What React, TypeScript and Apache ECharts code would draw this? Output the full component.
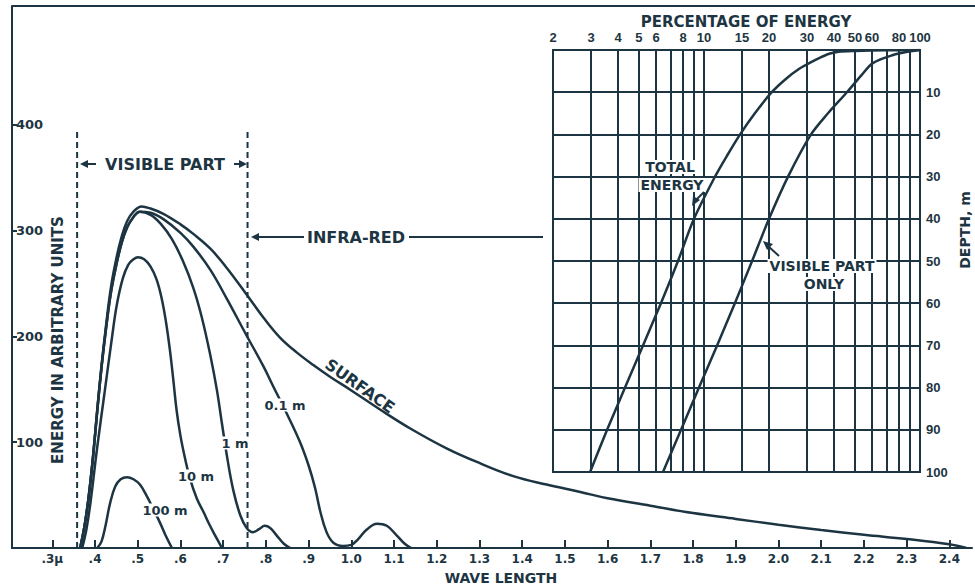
import React, { useEffect, useRef } from "react";
import * as echarts from "echarts";

const INK = "#1d3542";
const FONT = '"DejaVu Sans", sans-serif';
const NUMFONT = '"Liberation Sans", Arial, sans-serif';

// ---------- main chart: wave length (μ) vs energy ----------
const waveTicks = [0.3, 0.4, 0.5, 0.6, 0.7, 0.8, 0.9, 1.0, 1.1, 1.2, 1.3, 1.4, 1.5, 1.6, 1.7, 1.8, 1.9, 2.0, 2.1, 2.2, 2.3, 2.4];
const waveTickLabels = [".3μ", ".4", ".5", ".6", ".7", ".8", ".9", "1.0", "1.1", "1.2", "1.3", "1.4", "1.5", "1.6", "1.7", "1.8", "1.9", "2.0", "2.1", "2.2", "2.3", "2.4"];
const waveRange = [0.2056, 2.453];
const energyTicks = [100, 200, 300, 400];
const energyMax = 512.5;

const surface = [
  [0.365, 0], [0.375, 20], [0.385, 48], [0.395, 85], [0.405, 130], [0.415, 172], [0.425, 208],
  [0.437, 246], [0.45, 274], [0.462, 294], [0.475, 309], [0.49, 318], [0.509, 323], [0.53, 321],
  [0.56, 316], [0.6, 306], [0.63, 297], [0.67, 283], [0.708, 265], [0.756, 239], [0.794, 218],
  [0.833, 199], [0.872, 185], [0.911, 173], [0.95, 162], [1.0, 149], [1.067, 131], [1.138, 113],
  [1.224, 94], [1.302, 80], [1.379, 68], [1.457, 60], [1.536, 53], [1.6, 47], [1.7, 40],
  [1.8, 33], [1.9, 27.5], [2.0, 22], [2.1, 17], [2.2, 12.5], [2.3, 8.5], [2.4, 3.5], [2.44, 0],
];
const depth01m = [
  [0.365, 0], [0.375, 20], [0.385, 48], [0.395, 85], [0.405, 129], [0.415, 170], [0.425, 205],
  [0.437, 241], [0.45, 268], [0.462, 288], [0.475, 303], [0.49, 313], [0.505, 318], [0.53, 317],
  [0.56, 311], [0.6, 298], [0.63, 285], [0.67, 263], [0.708, 236], [0.756, 200], [0.794, 172],
  [0.817, 153], [0.849, 127], [0.88, 100], [0.9, 78], [0.915, 57], [0.927, 35], [0.942, 15],
  [0.958, 5], [0.98, 2], [1.0, 3], [1.015, 8], [1.035, 17], [1.06, 23], [1.083, 21], [1.106, 12],
  [1.125, 4], [1.14, 0],
];
const depth1m = [
  [0.365, 0], [0.375, 20], [0.385, 48], [0.395, 85], [0.405, 129], [0.415, 170], [0.425, 205],
  [0.437, 241], [0.45, 268], [0.462, 288], [0.475, 303], [0.49, 313], [0.505, 318], [0.53, 315],
  [0.555, 306], [0.58, 292], [0.605, 272], [0.63, 246], [0.65, 218], [0.67, 182], [0.685, 150],
  [0.697, 118], [0.71, 84], [0.724, 54], [0.74, 31], [0.755, 19], [0.77, 15], [0.785, 18],
  [0.797, 21], [0.81, 19], [0.825, 12], [0.842, 4], [0.857, 0],
];
const depth10m = [
  [0.37, 0], [0.38, 18], [0.39, 45], [0.405, 95], [0.423, 149], [0.44, 200], [0.451, 230],
  [0.465, 255], [0.478, 268], [0.49, 273], [0.5, 275], [0.515, 273], [0.53, 266], [0.544, 254],
  [0.556, 236], [0.566, 214], [0.575, 188], [0.583, 160], [0.591, 130], [0.6, 106], [0.61, 86],
  [0.622, 66], [0.638, 47], [0.654, 34], [0.668, 22], [0.681, 12], [0.697, 0],
];
const depth100m = [
  [0.405, 0], [0.415, 6], [0.425, 22], [0.435, 42], [0.447, 58], [0.46, 65], [0.475, 67],
  [0.49, 65], [0.505, 60], [0.52, 50], [0.535, 38], [0.552, 24], [0.565, 12], [0.58, 0],
];
const visibleBounds = [0.358, 0.757];
const boundTop = 395;

// ---------- inset: percentage of energy vs depth ----------
const pctLabels = [2, 3, 4, 5, 6, 8, 10, 15, 20, 30, 40, 50, 60, 80, 100];
const pctGridLines = [3, 4, 5, 6, 7, 8, 9, 10, 15, 20, 30, 40, 50, 60, 70, 80, 90];
const pctRange = [2, 100];
const depthRange = [0, 100];
const totalEnergy = [
  [100, 0], [70, 0.08], [50, 0.22], [42, 0.4], [38, 0.9], [34.5, 1.8], [31, 3], [27.5, 4.5],
  [24, 6.8], [20.6, 10], [17.2, 15], [14.7, 20], [12.8, 25], [11.25, 30], [8.99, 40],
  [7.58, 50], [6.32, 60], [5.22, 70], [4.31, 80], [3.56, 90], [2.97, 100],
];
const visibleOnly = [
  [100, 0], [88, 0.4], [75, 1.2], [60.5, 3.1], [53.5, 6], [45.9, 10], [37.5, 15], [31.3, 20],
  [24.5, 30], [20, 40], [16.7, 50], [13.9, 60], [11.5, 70], [9.48, 80], [7.83, 90], [6.46, 100],
];

const lg = (v: number) => Math.log10(v);

function curve(name: string, data: number[][]) {
  return {
    name,
    type: "line",
    xAxisIndex: 0,
    yAxisIndex: 0,
    data,
    symbol: "none",
    smooth: 0.4,
    silent: true,
    lineStyle: { color: INK, width: 2.5 },
    z: 3,
  };
}

function txt(text: string, x: number, y: number, size = 14, extra: any = {}) {
  return {
    type: "text",
    x,
    y,
    z: 100,
    rotation: extra.rotation || 0,
    style: {
      text,
      fill: INK,
      font: `bold ${size}px ${FONT}`,
      align: extra.align || "center",
      verticalAlign: "middle",
      backgroundColor: extra.bg,
      padding: extra.bg ? [0, 2] : undefined,
    },
  };
}
function seg(x1: number, y1: number, x2: number, y2: number, w = 2) {
  return { type: "line", z: 100, shape: { x1, y1, x2, y2 }, style: { stroke: INK, lineWidth: w } };
}
function head(points: number[][]) {
  return { type: "polygon", z: 100, shape: { points }, style: { fill: INK } };
}

export default function App() {
  const ref = useRef<HTMLDivElement>(null);
  useEffect(() => {
    const chart = echarts.init(ref.current!, null, { renderer: "svg" });
    const option: any = {
      animation: false,
      backgroundColor: "#ffffff",
      textStyle: { fontFamily: FONT },
      grid: [
        { left: 12, top: 6, width: 960, height: 542 },
        { left: 553, top: 50, width: 367, height: 422, show: true, borderColor: INK, borderWidth: 2, backgroundColor: "transparent" },
      ],
      xAxis: [
        {
          gridIndex: 0,
          type: "value",
          min: waveRange[0],
          max: waveRange[1],
          axisLine: { show: true, lineStyle: { color: INK, width: 2 } },
          axisTick: { show: true, inside: true, length: 8, customValues: waveTicks, lineStyle: { color: INK, width: 2 } },
          axisLabel: {
            customValues: waveTicks,
            margin: 5,
            color: INK,
            fontSize: 12,
            fontWeight: "bold",
            formatter: (v: number) => {
              const i = waveTicks.findIndex((t) => Math.abs(t - v) < 1e-6);
              return i >= 0 ? waveTickLabels[i] : "";
            },
          },
          splitLine: { show: false },
        },
        {
          gridIndex: 1,
          type: "value",
          position: "top",
          min: lg(pctRange[0]),
          max: lg(pctRange[1]),
          axisLine: { show: false },
          axisTick: { show: true, inside: true, length: 422, customValues: pctGridLines.map(lg), lineStyle: { color: INK, width: 2 } },
          axisLabel: {
            customValues: pctLabels.map(lg),
            margin: 6,
            color: INK,
            fontSize: 13,
            fontWeight: "bold",
            fontFamily: NUMFONT,
            formatter: (v: number) => String(Math.round(Math.pow(10, v))),
          },
          splitLine: { show: false },
        },
      ],
      yAxis: [
        {
          gridIndex: 0,
          type: "value",
          min: 0,
          max: energyMax,
          axisLine: { show: true, lineStyle: { color: INK, width: 2 } },
          axisTick: { show: true, inside: true, length: 5, customValues: energyTicks, lineStyle: { color: INK, width: 2 } },
          axisLabel: { inside: true, customValues: energyTicks, margin: 4, color: INK, fontSize: 13, fontWeight: "bold" },
          splitLine: { show: false },
        },
        {
          gridIndex: 1,
          type: "value",
          position: "right",
          inverse: true,
          min: depthRange[0],
          max: depthRange[1],
          interval: 10,
          axisLine: { show: false },
          axisTick: { show: false },
          axisLabel: { margin: 6, color: INK, fontSize: 13, fontWeight: "bold", fontFamily: NUMFONT, formatter: (v: number) => (v === 0 ? "" : String(v)) },
          splitLine: { show: true, lineStyle: { color: INK, width: 2 } },
        },
      ],
      series: [
        curve("Surface", surface),
        curve("0.1 m", depth01m),
        curve("1 m", depth1m),
        curve("10 m", depth10m),
        curve("100 m", depth100m),
        ...visibleBounds.map((b, i) => ({
          name: i === 0 ? "visible start" : "visible end",
          type: "line",
          xAxisIndex: 0,
          yAxisIndex: 0,
          data: [[b, 0], [b, boundTop]],
          symbol: "none",
          silent: true,
          lineStyle: { color: INK, width: 2, type: [6, 4] },
          z: 3,
        })),
        {
          name: "Total energy",
          type: "line",
          xAxisIndex: 1,
          yAxisIndex: 1,
          data: totalEnergy.map(([p, d]) => [lg(p), d]),
          symbol: "none",
          smooth: 0.3,
          silent: true,
          lineStyle: { color: INK, width: 2.5 },
          z: 6,
        },
        {
          name: "Visible part only",
          type: "line",
          xAxisIndex: 1,
          yAxisIndex: 1,
          data: visibleOnly.map(([p, d]) => [lg(p), d]),
          symbol: "none",
          smooth: 0.3,
          silent: true,
          lineStyle: { color: INK, width: 2.5 },
          z: 6,
        },
      ],
      graphic: [
        seg(12, 6, 975, 6),
        // visible part
        txt("VISIBLE PART", 165, 164, 16),
        seg(84, 164, 96, 164),
        head([[88, 160], [80, 164], [88, 168]]),
        seg(234, 164, 241, 164),
        head([[239, 160], [247, 164], [239, 168]]),
        // infra-red
        txt("INFRA-RED", 356, 237, 16),
        seg(255, 237, 304, 237),
        head([[259, 233], [251, 237], [259, 241]]),
        seg(409, 237, 543, 237),
        // axis titles
        txt("ENERGY IN ARBITRARY UNITS", 58, 340, 15, { rotation: Math.PI / 2 }),
        txt("WAVE LENGTH", 501, 578, 14),
        txt("SURFACE", 360, 386, 16, { rotation: -0.62 }),
        txt("100 m", 165, 510, 13, { bg: "#ffffff" }),
        txt("10 m", 196, 476, 13, { bg: "#ffffff" }),
        txt("1 m", 235, 443, 13, { bg: "#ffffff" }),
        txt("0.1 m", 285, 405, 13, { bg: "#ffffff" }),
        // inset
        txt("PERCENTAGE OF ENERGY", 746, 22, 15),
        txt("DEPTH, m", 965, 230, 14, { rotation: Math.PI / 2 }),
        txt("TOTAL", 670, 167, 14, { bg: "#ffffff" }),
        txt("ENERGY", 672, 185, 14, { bg: "#ffffff" }),
        seg(704, 192, 696, 200),
        head([[692, 206], [693, 196], [700, 200]]),
        txt("VISIBLE PART", 822, 266, 14, { bg: "#ffffff" }),
        txt("ONLY", 824, 284, 14, { bg: "#ffffff" }),
        seg(779, 256, 768, 246),
        head([[763, 241], [773, 244], [767, 250]]),
      ],
    };
    chart.setOption(option);
    return () => chart.dispose();
  }, []);
  return <div ref={ref} style={{ position: "absolute", left: 0, top: 0, width: 975, height: 588 }} />;
}
